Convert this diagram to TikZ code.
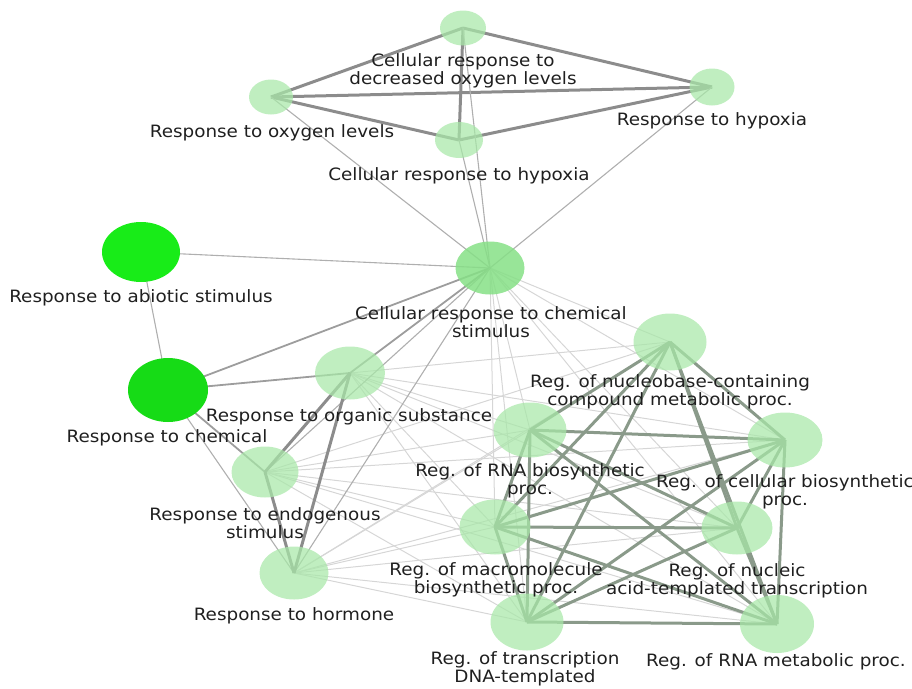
\documentclass[tikz,border=0pt]{standalone}
\usepackage{fontspec}
\newfontfamily\lblfont{DejaVu Sans}[FakeStretch=1.08]
\usetikzlibrary{shapes.geometric,backgrounds}

\definecolor{palegreen}{HTML}{A8E8A8}
\definecolor{midgreen}{HTML}{86E086}
\definecolor{brightgreen}{HTML}{18EC18}
\definecolor{edgegray}{HTML}{8C8C8C}
\definecolor{clustergray}{HTML}{8A9A8A}
\definecolor{faintgray}{HTML}{D6D6D6}

\tikzset{
  term/.style={ellipse, inner sep=0pt, fill=palegreen, fill opacity=0.72},
  sz/.style 2 args={minimum width=#1pt, minimum height=#2pt},
  termlabel/.style={font=\lblfont\fontsize{17}{17.5}\selectfont, text=black!88,
    align=center, inner sep=0pt},
  strong/.style={draw=edgegray, line width=3pt},
  cluster/.style={draw=clustergray, line width=3pt},
  medium/.style={draw=edgegray!85, line width=1.8pt},
  thin/.style={draw=edgegray!70, line width=1.1pt},
  faint/.style={draw=faintgray, line width=1pt},
}

\begin{document}
\begin{tikzpicture}[x=1pt,y=-1pt]
  \useasboundingbox (0,0) rectangle (912,688);

  % oxygen terms
  \node[term,sz={46}{35}] (DOL) at (463,28)  {};
  \node[term,sz={44}{35}] (ROL) at (271,97)  {};
  \node[term,sz={45}{37}] (HYP) at (712,87)  {};
  \node[term,sz={48}{36}] (CHY) at (459,140) {};

  % chemical stimulus terms
  \node[term,sz={69}{53},fill=midgreen,fill opacity=0.85] (CCS) at (490,268) {};
  \node[term,sz={78}{60},fill=brightgreen,fill opacity=1] (RAS) at (141,252) {};
  \node[term,sz={80}{64},fill=brightgreen!93!black,fill opacity=1] (RCH) at (168,390) {};
  \node[term,sz={70}{53}] (ROS) at (350,373) {};
  \node[term,sz={67}{51}] (RES) at (265,472) {};
  \node[term,sz={69}{53}] (RHO) at (294,573) {};

  % regulation terms
  \node[term,sz={73}{57}] (NUC) at (670,342) {};
  \node[term,sz={73}{55}] (RBS) at (530,430) {};
  \node[term,sz={75}{55}] (CBS) at (785,440) {};
  \node[term,sz={71}{55}] (MBS) at (495,527) {};
  \node[term,sz={71}{53}] (NAT) at (737,528) {};
  \node[term,sz={73}{57}] (TDT) at (527,622) {};
  \node[term,sz={74}{58}] (RMP) at (777,624) {};

  \begin{pgfonlayer}{background}
    % faint links to the regulation cluster
    \foreach \a in {CCS,ROS,RES,RHO}
      \foreach \b in {NUC,RBS,CBS,MBS,NAT,TDT,RMP}
        \draw[faint] (\a.center) -- (\b.center);

    % regulation cluster, all pairs
    \foreach \a/\others in {NUC/{RBS,CBS,MBS,NAT,TDT,RMP},
                            RBS/{CBS,MBS,NAT,TDT,RMP},
                            CBS/{MBS,NAT,TDT,RMP},
                            MBS/{NAT,TDT,RMP},
                            NAT/{TDT,RMP},
                            TDT/{RMP}}
      \foreach \b in \others
        \draw[cluster] (\a.center) -- (\b.center);

    % oxygen cluster
    \draw[strong] (DOL.center) -- (ROL.center);
    \draw[strong] (DOL.center) -- (HYP.center);
    \draw[strong] (DOL.center) -- (CHY.center);
    \draw[strong] (ROL.center) -- (HYP.center);
    \draw[strong] (ROL.center) -- (CHY.center);
    \draw[strong] (CHY.center) -- (HYP.center);

    \draw[thin] (ROL.center) -- (CCS.center);
    \draw[thin] (DOL.center) -- (CCS.center);
    \draw[thin] (CHY.center) -- (CCS.center);
    \draw[thin] (HYP.center) -- (CCS.center);

    % chemical stimulus cluster
    \draw[thin]   (RAS.center) -- (RCH.center);
    \draw[thin]   (RAS.center) -- (CCS.center);
    \draw[medium] (RCH.center) -- (CCS.center);
    \draw[medium] (RCH.center) -- (ROS.center);
    \draw[medium] (RCH.center) -- (RES.center);
    \draw[thin]   (RCH.center) -- (RHO.center);
    \draw[medium] (ROS.center) -- (CCS.center);
    \draw[thin]   (RES.center) -- (CCS.center);
    \draw[thin]   (RHO.center) -- (CCS.center);
    \draw[strong] (ROS.center) -- (RES.center);
    \draw[strong] (ROS.center) -- (RHO.center);
    \draw[strong] (RES.center) -- (RHO.center);
  \end{pgfonlayer}

  % labels
  \node[termlabel] (DOL-lbl) at (463,71)  {Cellular response to\\decreased oxygen levels};
  \node[termlabel] (ROL-lbl) at (272,133) {Response to oxygen levels};
  \node[termlabel] (HYP-lbl) at (712,121) {Response to hypoxia};
  \node[termlabel] (CHY-lbl) at (459,176) {Cellular response to hypoxia};
  \node[termlabel] (RAS-lbl) at (141,298) {Response to abiotic stimulus};
  \node[termlabel] (CCS-lbl) at (491,322) {Cellular response to chemical\\stimulus};
  \node[termlabel] (ROS-lbl) at (349,417) {Response to organic substance};
  \node[termlabel] (RCH-lbl) at (167,438) {Response to chemical};
  \node[termlabel] (RES-lbl) at (265,523) {Response to endogenous\\stimulus};
  \node[termlabel] (RHO-lbl) at (294,616) {Response to hormone};
  \node[termlabel] (NUC-lbl) at (670,392) {Reg. of nucleobase-containing\\compound metabolic proc.};
  \node[termlabel] (RBS-lbl) at (530,481) {Reg. of RNA biosynthetic\\proc.};
  \node[termlabel] (CBS-lbl) at (785,492) {Reg. of cellular biosynthetic\\proc.};
  \node[termlabel] (MBS-lbl) at (496,580) {Reg. of macromolecule\\biosynthetic proc.};
  \node[termlabel] (NAT-lbl) at (737,581) {Reg. of nucleic\\acid-templated transcription};
  \node[termlabel] (TDT-lbl) at (525,669) {Reg. of transcription\\DNA-templated};
  \node[termlabel] (RMP-lbl) at (776,662) {Reg. of RNA metabolic proc.};
\end{tikzpicture}
\end{document}
